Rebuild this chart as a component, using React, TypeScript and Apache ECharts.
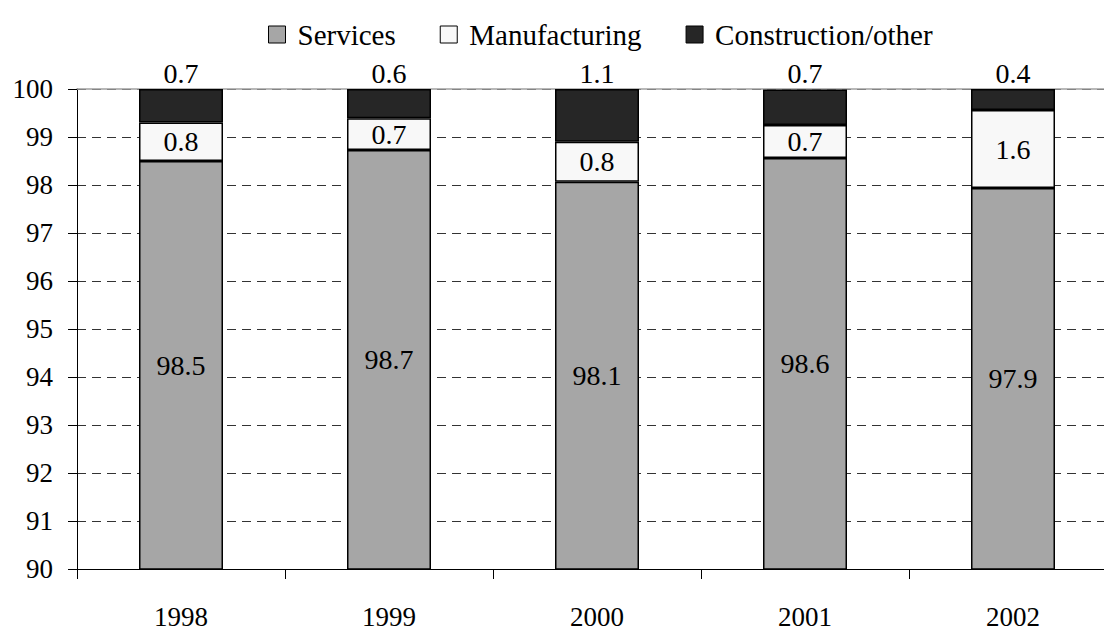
import React, { useEffect, useRef } from "react";
import * as echarts from "echarts";

const years = ["1998", "1999", "2000", "2001", "2002"];
const services = [98.5, 98.73, 98.07, 98.56, 97.94];
const manufacturing = [0.8, 0.66, 0.83, 0.69, 1.62];
const construction = [0.7, 0.61, 1.1, 0.74, 0.44];
const seriesNames = ["Services", "Manufacturing", "Construction/other"];

const FONT = "Liberation Serif";

export default function App() {
  const ref = useRef<HTMLDivElement>(null);
  useEffect(() => {
    if (!ref.current) return;
    const chart = echarts.init(ref.current, null, { renderer: "svg" });
    const fmt = (p: any) => Number(p.value).toFixed(1);
    const border = { borderColor: "#000", borderWidth: 1.5 };
    const lbl = { fontFamily: FONT, fontSize: 28, color: "#000" };
    chart.setOption({
      animation: false,
      textStyle: { fontFamily: FONT, color: "#000" },
      legend: {
        left: 263,
        top: 15,
        itemWidth: 17,
        itemHeight: 17,
        itemGap: 44,
        icon: "rect",
        textStyle: { fontFamily: FONT, fontSize: 29, color: "#000", padding: [0, 0, 0, 7] },
        itemStyle: { borderColor: "#000", borderWidth: 1 },
        data: seriesNames,
      },
      grid: { left: 77, right: 23, top: 89, bottom: 61, containLabel: false },
      xAxis: [
        {
          type: "category",
          data: years,
          boundaryGap: true,
          axisLine: { lineStyle: { color: "#000", width: 1 } },
          axisTick: { show: true, length: 10, lineStyle: { color: "#000" } },
          axisLabel: { fontFamily: FONT, fontSize: 27, color: "#000", margin: 34 },
        },
        {
          type: "category",
          data: years,
          position: "top",
          axisLine: { show: true, lineStyle: { color: "#A0A0A0", width: 1.5 } },
          axisTick: { show: false },
          axisLabel: { show: false },
        },
      ],
      yAxis: {
        type: "value",
        min: 90,
        max: 100,
        interval: 1,
        axisLine: { show: true, lineStyle: { color: "#000", width: 1 } },
        axisTick: { show: true, length: 9, lineStyle: { color: "#000" } },
        axisLabel: { fontFamily: FONT, fontSize: 27, color: "#000", margin: 24 },
        splitLine: {
          show: true,
          lineStyle: { color: "#333", type: [9, 6], width: 1 },
        },
      },
      series: [
        {
          name: seriesNames[0],
          type: "bar",
          stack: "total",
          barWidth: 84,
          data: services,
          itemStyle: { color: "#A6A6A6", ...border },
          label: { show: true, position: "inside", formatter: fmt, ...lbl },
        },
        {
          name: seriesNames[1],
          type: "bar",
          stack: "total",
          barWidth: 84,
          data: manufacturing,
          itemStyle: { color: "#F8F8F8", ...border },
          label: { show: true, position: "inside", formatter: fmt, ...lbl },
        },
        {
          name: seriesNames[2],
          type: "bar",
          stack: "total",
          barWidth: 84,
          data: construction,
          itemStyle: { color: "#262626", ...border },
          label: { show: true, position: "top", distance: 2, formatter: fmt, ...lbl },
        },
      ],
    });
    return () => chart.dispose();
  }, []);
  return (
    <div style={{ position: "fixed", left: 0, top: 0, width: 1104, height: 630, overflow: "hidden", background: "#fff" }}>
      <style>{`#chart-box text { font-family: "Liberation Serif", serif !important; }`}</style>
      <div id="chart-box" ref={ref} style={{ width: 1140, height: 630 }} />
    </div>
  );
}
